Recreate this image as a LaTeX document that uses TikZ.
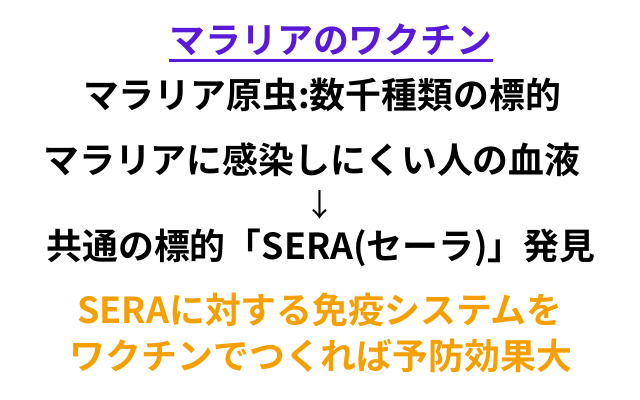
\documentclass[tikz,border=0pt]{standalone}
\usepackage{fontspec}
\setmainfont{Noto Sans CJK JP}[BoldFont={Noto Sans CJK JP Bold}]
\definecolor{ttl}{HTML}{5A18D8}
\definecolor{org}{HTML}{F5A000}
\begin{document}
\begin{tikzpicture}[x=0.025cm,y=-0.025cm,
  txt/.style={font=\bfseries\fontsize{25.5pt}{28pt}\selectfont,inner sep=0pt,anchor=center}]
\useasboundingbox (0,0) rectangle (640,400);
\fill[white] (0,0) rectangle (640,400);
\node[txt,text=ttl] (t) at (331,40) {マラリアのワクチン};
\draw[ttl,line width=1.6pt] ([yshift=-3pt]t.south west) -- ([yshift=-3pt]t.south east);
\node[txt] (a) at (322,95) {マラリア原虫:数千種類の標的};
\node[txt] (b) at (312,160) {マラリアに感染しにくい人の血液};
\node[txt,font=\fontsize{22pt}{24pt}\selectfont] (c) at (320,205) {↓};
\node[txt] (d) at (321,248) {共通の標的「SERA(セーラ)」発見};
\node[txt,text=org] (e) at (320,310) {SERAに対する免疫システムを};
\node[txt,text=org] (f) at (321,356) {ワクチンでつくれば予防効果大};
\end{tikzpicture}
\end{document}
